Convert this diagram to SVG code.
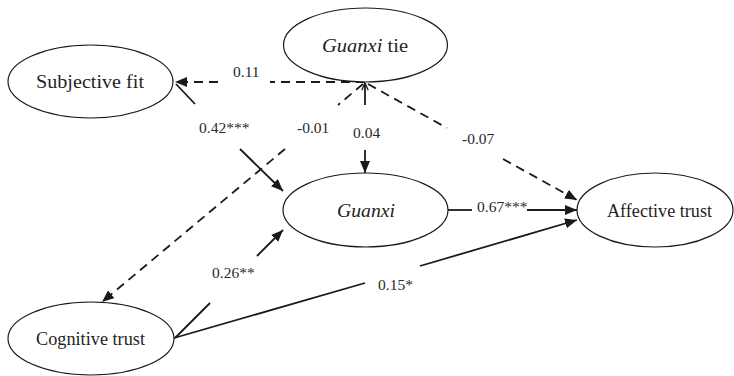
<svg xmlns="http://www.w3.org/2000/svg" width="734" height="376" viewBox="0 0 734 376" font-family="Liberation Serif, Times New Roman, DejaVu Serif, serif">
  <defs>
    <style>
      .node ellipse { fill: #ffffff; stroke: #1a1a1a; stroke-width: 1.2; }
      .node text { font-family: 'Liberation Serif', 'DejaVu Serif', serif; font-size: 18.5px; fill: #1f1f1f; text-anchor: middle; }
      .it { font-style: italic; }
      .edge { fill: none; stroke: #1a1a1a; stroke-width: 1.8; }
      .dash { stroke-dasharray: 9 6; }
      .lbl { font-family: 'Liberation Serif', 'DejaVu Serif', serif; font-size: 15.5px; fill: #2a2a2a; }
    </style>
    <marker id="head" viewBox="0 0 12 10" refX="12" refY="5" markerWidth="12" markerHeight="10" markerUnits="userSpaceOnUse" orient="auto">
      <path d="M0,0 L12,5 L0,10 Z" fill="#1a1a1a"/>
    </marker>
    <marker id="open" viewBox="0 0 10 10" refX="10" refY="5" markerWidth="8" markerHeight="8" markerUnits="userSpaceOnUse" orient="auto">
      <path d="M1,1 L10,5 L1,9" fill="none" stroke="#1a1a1a" stroke-width="1.6"/>
    </marker>
  </defs>

  <rect width="734" height="376" fill="#ffffff"/>

  <!-- connectors -->
  <g id="connectors">
    <!-- Guanxi tie -> Subjective fit (0.11) -->
    <path class="edge dash" d="M365,82 L270,82"/>
    <path class="edge dash" d="M218,82 L175,82" marker-end="url(#head)"/>
    <!-- Subjective fit -> Guanxi (0.42***) -->
    <path class="edge" d="M176,84 L195,104"/>
    <path class="edge" d="M240,149 L283,191" marker-end="url(#head)"/>
    <!-- Guanxi tie -> Cognitive trust (-0.01) -->
    <path class="edge dash" d="M363,84 L338,105"/>
    <path class="edge dash" d="M285,149 L102,302" marker-end="url(#head)"/>
    <!-- Guanxi tie <-> Guanxi (0.04) -->
    <path class="edge" d="M365,105 L365,83" marker-end="url(#open)"/>
    <path class="edge" d="M365,150 L365,173" marker-end="url(#head)"/>
    <!-- Guanxi tie -> Affective trust (-0.07) -->
    <path class="edge dash" d="M368,84 L447,128"/>
    <path class="edge dash" d="M503,159 L577,200" marker-end="url(#head)"/>
    <!-- Guanxi -> Affective trust (0.67***) -->
    <path class="edge" d="M448,210 L472,210"/>
    <path class="edge" d="M527,210 L577,210" marker-end="url(#head)"/>
    <!-- Cognitive trust -> Affective trust (0.15*) -->
    <path class="edge" d="M174,338 L365,283"/>
    <path class="edge" d="M420,266 L577,220" marker-end="url(#head)"/>
    <!-- Cognitive trust -> Guanxi (0.26**) -->
    <path class="edge" d="M175,338 L210,303"/>
    <path class="edge" d="M257,256 L283,230" marker-end="url(#head)"/>

    <!-- path coefficients -->
    <text class="lbl" x="233" y="77">0.11</text>
    <text class="lbl" x="199" y="133">0.42***</text>
    <text class="lbl" x="297" y="133">-0.01</text>
    <text class="lbl" x="353" y="138">0.04</text>
    <text class="lbl" x="462" y="144">-0.07</text>
    <text class="lbl" x="477" y="212">0.67***</text>
    <text class="lbl" x="212" y="278">0.26**</text>
    <text class="lbl" x="378" y="290">0.15*</text>
  </g>

  <!-- nodes -->
  <g id="guanxi-tie" class="node">
    <ellipse cx="365.5" cy="45" rx="82" ry="37"/>
    <text x="365" y="52" textLength="86" lengthAdjust="spacingAndGlyphs"><tspan class="it">Guanxi</tspan> tie</text>
  </g>
  <g id="subjective-fit" class="node">
    <ellipse cx="90.5" cy="81.5" rx="82.5" ry="36.5"/>
    <text x="90" y="88" textLength="108" lengthAdjust="spacingAndGlyphs">Subjective fit</text>
  </g>
  <g id="guanxi" class="node">
    <ellipse cx="365.5" cy="210" rx="82.5" ry="37"/>
    <text class="it" x="366" y="217" textLength="58" lengthAdjust="spacingAndGlyphs">Guanxi</text>
  </g>
  <g id="affective-trust" class="node">
    <ellipse cx="655" cy="210" rx="78" ry="37"/>
    <text x="659.5" y="217" textLength="105" lengthAdjust="spacingAndGlyphs">Affective trust</text>
  </g>
  <g id="cognitive-trust" class="node">
    <ellipse cx="91" cy="338.5" rx="83" ry="36.5"/>
    <text x="90.5" y="345" textLength="109" lengthAdjust="spacingAndGlyphs">Cognitive trust</text>
  </g>
</svg>
